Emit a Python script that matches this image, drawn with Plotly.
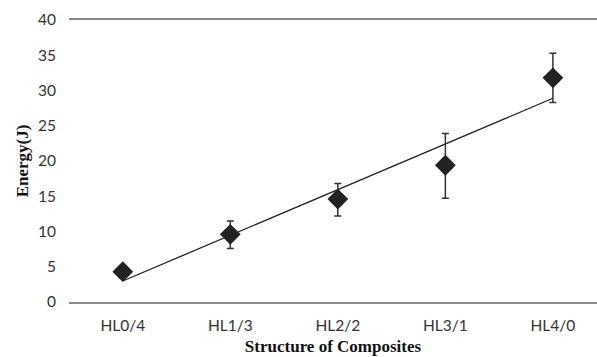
import numpy as np
import plotly.graph_objects as go

categories = ["HL0/4", "HL1/3", "HL2/2", "HL3/1", "HL4/0"]
energy = [4.3, 9.6, 14.6, 19.4, 31.8]
err_plus = [0.0, 1.9, 2.2, 4.5, 3.5]
err_minus = [0.0, 2.0, 2.4, 4.7, 3.5]
y_ticks = [0, 5, 10, 15, 20, 25, 30, 35, 40]

xi = np.arange(len(categories))
slope, intercept = np.polyfit(xi, energy, 1)
trend = slope * xi + intercept

fig = go.Figure()
fig.add_trace(go.Scatter(
    x=xi, y=trend, mode="lines",
    line=dict(color="#222222", width=1.3),
    hoverinfo="skip", showlegend=False,
))
fig.add_trace(go.Scatter(
    x=xi, y=energy, mode="markers",
    marker=dict(symbol="diamond", size=16, color="#222222"),
    error_y=dict(type="data", symmetric=False, array=err_plus, arrayminus=err_minus,
                 color="#333333", thickness=1.5, width=3.5),
    showlegend=False,
))

fig.update_layout(
    width=597, height=357,
    margin=dict(l=69, r=0, t=20, b=55),
    paper_bgcolor="white", plot_bgcolor="white",
    font=dict(family="Lato, Open Sans, sans-serif", color="#333333", size=15),
    xaxis=dict(
        range=[-0.5, 4.41],
        tickmode="array", tickvals=list(xi), ticktext=categories,
        showgrid=False, zeroline=False,
        showline=True, mirror=True, linecolor="#8c8c8c", linewidth=1.5,
        ticks="", ticklabelstandoff=9,
        tickfont=dict(size=15.5, color="#333333"),
        title=dict(text="<b>Structure of Composites</b>",
                   font=dict(family="Liberation Serif, Times New Roman, serif", size=17, color="#111111"),
                   standoff=7),
    ),
    yaxis=dict(
        range=[0, 40],
        tickmode="array", tickvals=y_ticks,
        showgrid=False, zeroline=False, showline=False,
        ticks="", ticklabelstandoff=12,
        tickfont=dict(size=15.5, color="#333333"),
        title=dict(text="<b>Energy(J)</b>",
                   font=dict(family="Liberation Serif, Times New Roman, serif", size=17, color="#111111"),
                   standoff=5),
    ),
)

fig.write_html("out.html")
